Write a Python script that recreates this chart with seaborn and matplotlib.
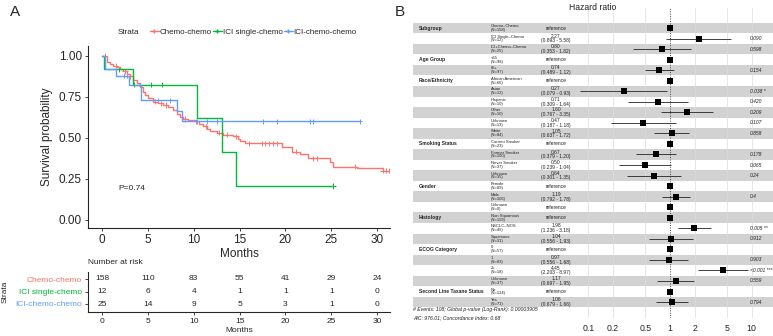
import numpy as np
import pandas as pd
import matplotlib
matplotlib.use("Agg")
import matplotlib.pyplot as plt
import matplotlib.transforms as mtransforms
from matplotlib.lines import Line2D
import seaborn as sns

# ---------------- data: Kaplan-Meier (panel A) ----------------
strata_names = ["Chemo-chemo", "ICI single-chemo", "ICI-chemo-chemo"]
strata_colors = ["#F8766D", "#00BA38", "#619CFF"]

red_time = [0, 0.5, 0.87, 1.2, 1.6, 1.96, 2.3, 2.7, 3.05, 3.4, 3.8, 4.15, 4.5, 4.7, 5.0,
            5.6, 6.1, 6.65, 7.2, 7.75, 8.15, 8.5, 8.8, 9.4, 10.1, 10.6, 11.0, 11.5, 11.8,
            12.5, 13.2, 14.3, 14.8, 15.0, 15.6, 19.6, 20.7, 21.6, 22.5, 24.9, 25.2, 27.8,
            30.6, 31.4]
red_surv = [1.0, 0.965, 0.95, 0.94, 0.93, 0.92, 0.905, 0.89, 0.875, 0.855, 0.835, 0.81,
            0.78, 0.76, 0.74, 0.72, 0.71, 0.70, 0.69, 0.67, 0.646, 0.63, 0.615, 0.61, 0.60,
            0.585, 0.57, 0.555, 0.54, 0.53, 0.52, 0.51, 0.495, 0.48, 0.467, 0.443, 0.415,
            0.40, 0.375, 0.35, 0.325, 0.315, 0.30, 0.30]
red_cens = [0.3, 1.5, 2.5, 3.1, 5.8, 6.4, 7.0, 9.0, 10.4, 11.3, 12.8, 13.6, 14.6, 16.0,
            17.4, 17.8, 18.2, 18.6, 19.1, 21.2, 23.0, 23.4, 27.6, 30.6, 31.0, 31.3]

green_time = [0, 0.2, 3.4, 10.4, 13.1, 14.6, 25.2]
green_surv = [1.0, 0.917, 0.825, 0.619, 0.413, 0.206, 0.206]
green_cens = [1.9, 3.5, 5.3, 6.5, 25.2]

blue_time = [0, 0.3, 1.5, 2.9, 4.3, 8.2, 8.7, 28.1]
blue_surv = [1.0, 0.92, 0.88, 0.82, 0.73, 0.665, 0.60, 0.60]
blue_cens = [2.4, 2.7, 6.1, 7.4, 10.3, 11.5, 12.5, 17.6, 19.1, 22.7, 23.0, 28.1]

risk_times = [0, 5, 10, 15, 20, 25, 30]
risk_red = [158, 110, 83, 55, 41, 29, 24]
risk_green = [12, 6, 4, 1, 1, 1, 0]
risk_blue = [25, 14, 9, 5, 3, 1, 0]
p_text = "P=0.74"

# ---------------- data: forest plot (panel B) ----------------
fp_category = ["Subgroup", "", "", "Age Group", "", "Race/Ethnicity", "", "", "", "", "",
               "Smoking Status", "", "", "", "Gender", "", "", "Histology", "", "",
               "ECOG Category", "", "", "", "Second Line Taxane Status", ""]
fp_level = ["Chemo–Chemo", "ICI Single–Chemo", "ICI+Chemo–Chemo", "<65", "65+",
            "African American", "Asian", "Hispanic", "Other", "Unknown", "White",
            "Current Smoker", "Former Smoker", "Never Smoker", "Unknown", "Female", "Male",
            "Unknown", "Non Squamous", "NSCLC–NOS", "Squamous", "0", "1", "2+", "Unknown",
            "No", "Yes"]
fp_n = [158, 12, 25, 98, 97, 66, 12, 10, 10, 13, 84, 23, 100, 37, 35, 89, 106, 0, 119, 45,
        31, 57, 83, 18, 37, 124, 71]
fp_hr = [np.nan, 2.27, 0.80, np.nan, 0.74, np.nan, 0.27, 0.71, 1.60, 0.47, 1.05, np.nan,
         0.67, 0.50, 0.64, np.nan, 1.19, np.nan, np.nan, 1.98, 1.04, np.nan, 0.97, 4.45,
         1.17, np.nan, 1.06]
fp_lo = [np.nan, 0.893, 0.353, np.nan, 0.489, np.nan, 0.079, 0.309, 0.767, 0.187, 0.637,
         np.nan, 0.379, 0.239, 0.301, np.nan, 0.792, np.nan, np.nan, 1.236, 0.556, np.nan,
         0.556, 2.203, 0.697, np.nan, 0.679]
fp_hi = [np.nan, 5.58, 1.82, np.nan, 1.12, np.nan, 0.93, 1.64, 3.35, 1.18, 1.72, np.nan,
         1.20, 1.04, 1.35, np.nan, 1.78, np.nan, np.nan, 3.18, 1.93, np.nan, 1.68, 8.97,
         1.95, np.nan, 1.66]
fp_p = ["", "0.090", "0.598", "", "0.154", "", "0.038 *", "0.420", "0.209", "0.107",
        "0.858", "", "0.178", "0.065", "0.24", "", "0.4", "", "", "0.005 **", "0.912", "",
        "0.903", "<0.001 ***", "0.559", "", "0.794"]
fp_ticks = [0.1, 0.2, 0.5, 1, 2, 5, 10]
fp_ticklabels = ["0.1", "0.2", "0.5", "1", "2", "5", "10"]
footer1 = "# Events: 108; Global p-value (Log-Rank): 0.00003905"
footer2 = "AIC: 976.01; Concordance Index: 0.68"

# ---------------- styling ----------------
sns.set_style("ticks")
plt.rcParams["font.family"] = ["Liberation Sans", "DejaVu Sans"]

W, H = 773, 336
fig = plt.figure(figsize=(W / 100, H / 100), dpi=100)


def px_axes(l, t, r, b):
    return fig.add_axes([l / W, 1 - b / H, (r - l) / W, (b - t) / H])


def ftext(x, y, s, **kw):
    return fig.text(x / W, 1 - y / H, s, **kw)


# ---------------- panel A: KM curves ----------------
ax = px_axes(88, 46, 390, 228)
ax.set_facecolor("none")
curves = []
for name, t, s in zip(strata_names, [red_time, green_time, blue_time],
                      [red_surv, green_surv, blue_surv]):
    curves.append(pd.DataFrame({"time": t, "surv": s, "strata": name}))
km = pd.concat(curves, ignore_index=True)
sns.lineplot(data=km, x="time", y="surv", hue="strata", hue_order=strata_names,
             palette=strata_colors, drawstyle="steps-post", estimator=None, sort=False,
             units="strata", linewidth=1.0, legend=False, ax=ax)

cens_rows = []
for name, ct, t, s in zip(strata_names, [red_cens, green_cens, blue_cens],
                          [red_time, green_time, blue_time], [red_surv, green_surv, blue_surv]):
    t = np.asarray(t); s = np.asarray(s)
    for c in ct:
        idx = np.searchsorted(t, c, side="right") - 1
        cens_rows.append({"time": c, "surv": s[idx], "strata": name})
cens = pd.DataFrame(cens_rows)
sns.scatterplot(data=cens, x="time", y="surv", hue="strata", hue_order=strata_names,
                palette=strata_colors, marker="+", s=14, linewidth=0.7, legend=False, ax=ax)

ax.set_xlim(-1.53, 31.4)
ax.set_ylim(-0.05, 1.06)
ax.set_xticks([0, 5, 10, 15, 20, 25, 30])
ax.set_yticks([0, 0.25, 0.5, 0.75, 1.0])
ax.set_yticklabels(["0.00", "0.25", "0.50", "0.75", "1.00"])
sns.despine(ax=ax)
for sp in ["left", "bottom"]:
    ax.spines[sp].set_linewidth(0.8)
ax.tick_params(direction="out", length=2.5, width=0.6, labelsize=8.5, pad=2)
ax.set_xlabel("Months", fontsize=8.5)
ax.xaxis.label.set_va("center")
ax.xaxis.set_label_coords(0.5, -(254 - 228) / 182)
ax.set_ylabel("Survival probability", fontsize=8.5)
ax.yaxis.label.set_va("center")
ax.yaxis.set_label_coords((47 - 88) / 302, 0.5)
ax.text(1.75, 0.19, p_text, fontsize=6, va="center", ha="left")

handles = [Line2D([], [], color=c, marker="+", markersize=3.5, lw=1.0) for c in strata_colors]
leg = ax.legend(handles, strata_names, ncol=3, frameon=False, fontsize=5.8,
                handlelength=1.1, handletextpad=0.1, columnspacing=0.15, borderpad=0,
                loc="center left", bbox_to_anchor=(146 / W, 1 - 32 / H),
                bbox_transform=fig.transFigure)
ftext(118, 32, "Strata", fontsize=5.8, va="center", ha="left")
ftext(10, 12, "A", fontsize=11, va="center", ha="left")

# ---------------- panel A: risk table ----------------
rt = px_axes(88, 272, 390, 312)
rt.set_facecolor("none")
rows_y = [3, 2, 1]
for yv, nums in zip(rows_y, [risk_red, risk_green, risk_blue]):
    for tt, n in zip(risk_times, nums):
        rt.text(tt, yv, str(n), ha="center", va="center", fontsize=6)
rt.set_xlim(-1.53, 31.4)
rt.set_ylim(0.36, 3.56)
rt.set_xticks(risk_times)
rt.set_yticks(rows_y)
rt.set_yticklabels(strata_names)
for lab, c in zip(rt.get_yticklabels(), strata_colors):
    lab.set_color(c)
sns.despine(ax=rt)
for sp in ["left", "bottom"]:
    rt.spines[sp].set_linewidth(0.8)
rt.tick_params(direction="out", length=2.5, width=0.6, labelsize=6, pad=2)
rt.set_xlabel("Months", fontsize=6)
rt.xaxis.label.set_va("center")
rt.xaxis.set_label_coords(0.5, -(331 - 312) / 40)
ftext(5, 292, "Strata", fontsize=6, rotation=90, va="center", ha="center")
ftext(88, 263, "Number at risk", fontsize=6, va="center", ha="left")

# ---------------- panel B: forest plot ----------------
fx0, fx1 = 413, 773
ft, fb = 8, 318
x1px, dec = 670.0, 81.7
row_h = 10.54
row1_px = 28.0
axb = px_axes(fx0, ft, fx1, fb)
axb.set_facecolor("none")
axb.set_xscale("log")
axb.set_xlim(10 ** ((fx0 - x1px) / dec), 10 ** ((fx1 - x1px) / dec))
ytop = 1 - (row1_px - ft) / row_h
ybot = ytop + (fb - ft) / row_h
axb.set_ylim(ybot, ytop)

nrows = len(fp_level)
rows = np.arange(1, nrows + 1)
for r in rows:
    if r % 2 == 1:
        axb.axhspan(r - 0.5, r + 0.5, color="#d2d2d2", lw=0, zorder=0)
for tk in fp_ticks:
    if tk != 1:
        axb.axvline(tk, color="#dcdcdc", lw=0.5, zorder=0.5)
axb.axvline(1, color="#444444", ls=(0, (1, 1.5)), lw=0.7, zorder=1)

fdf = pd.DataFrame({"row": rows, "hr": fp_hr, "lo": fp_lo, "hi": fp_hi})
fdf["hr_plot"] = fdf["hr"].fillna(1.0)
ci = fdf.dropna(subset=["lo"])
axb.hlines(ci["row"], ci["lo"], ci["hi"], color="#222222", lw=0.6, zorder=2)
sns.scatterplot(data=fdf, x="hr_plot", y="row", marker="s", color="black", s=22,
                linewidth=0, zorder=3, ax=axb, legend=False)

axb.set_xticks(fp_ticks)
axb.set_xticklabels(fp_ticklabels)
axb.xaxis.set_minor_locator(matplotlib.ticker.NullLocator())
axb.set_yticks([])
axb.tick_params(axis="x", length=0, labelsize=6.3, pad=4)
axb.set_xlabel("")
axb.set_ylabel("")
for sp in axb.spines.values():
    sp.set_visible(False)

tr = mtransforms.blended_transform_factory(fig.transFigure, axb.transData)
for r, cat, lev, n, hr, lo, hi, p in zip(rows, fp_category, fp_level, fp_n, fp_hr,
                                         fp_lo, fp_hi, fp_p):
    if cat:
        axb.text(419 / W, r, cat, transform=tr, fontsize=3.6, fontweight="bold",
                 ha="left", va="center")
    axb.text(491 / W, r, f"{lev}\n(N={n})", transform=tr, fontsize=3.0, ha="left",
             va="center", linespacing=0.95, color="#222222")
    if np.isnan(hr):
        s = "reference"
    else:
        s = f"{hr:.2f}\n({lo:.3f} - {hi:.2f})"
    axb.text(556 / W, r, s, transform=tr, fontsize=3.5, ha="center", va="center",
             linespacing=0.95, color="#222222")
    if p:
        axb.text(750 / W, r, p, transform=tr, fontsize=3.6, ha="left", va="center",
                 style="italic", color="#222222")

ftext(413, 310, footer1, fontsize=3.7, style="italic", va="center", ha="left", color="#222222")
ftext(413, 318, footer2, fontsize=3.7, style="italic", va="center", ha="left", color="#222222")
ftext(593, 7, "Hazard ratio", fontsize=6.2, va="center", ha="center", color="#222222")
ftext(395, 12, "B", fontsize=11, va="center", ha="left")

fig.savefig("out.png", dpi=100)
